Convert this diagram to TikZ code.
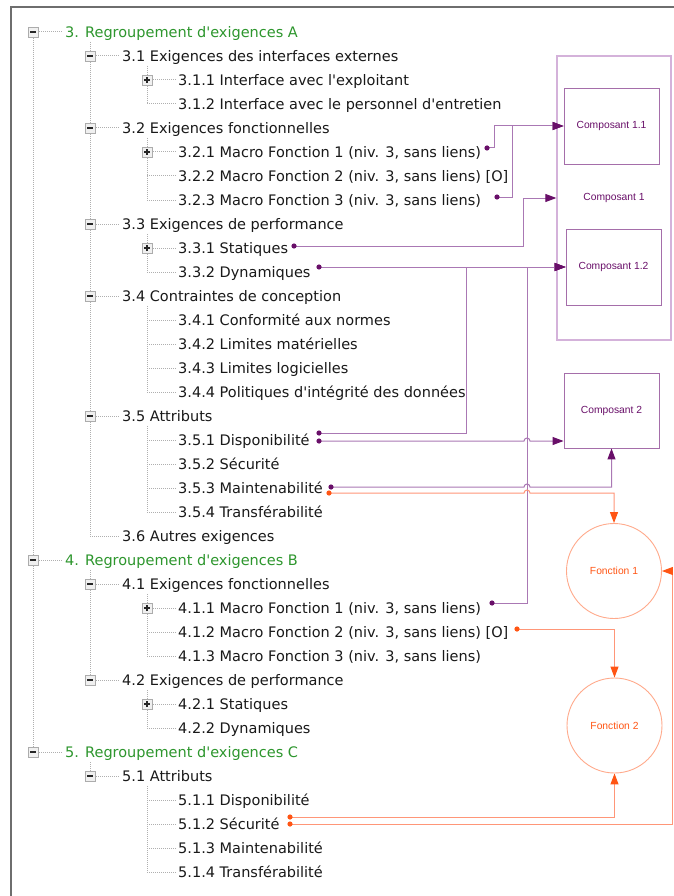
\documentclass[tikz,border=0pt]{standalone}
\usepackage{fontspec}
\setmainfont{DejaVu Sans}
\newfontfamily\labfont{Liberation Sans}
\usetikzlibrary{arrows.meta}
\newcommand\ap{\textquotesingle}
\definecolor{treetxt}{RGB}{25,25,25}
\definecolor{grpc}{RGB}{45,150,45}
\definecolor{pdark}{RGB}{105,15,105}
\definecolor{pline}{RGB}{170,120,180}
\definecolor{pbox}{RGB}{165,110,170}
\definecolor{pouter}{RGB}{212,178,218}
\definecolor{odark}{RGB}{255,85,20}
\definecolor{oline}{RGB}{255,150,120}
\definecolor{ocirc}{RGB}{255,170,140}
\definecolor{framec}{RGB}{110,110,110}
\definecolor{dotl}{RGB}{175,175,175}
\begin{document}
\begin{tikzpicture}[x=1pt,y=1pt,
  item/.style={anchor=base west, inner sep=0pt, font=\fontsize{14.5}{17}\selectfont, text=treetxt},
  grp/.style={item, text=grpc},
  tbox/.style={rectangle, draw=gray!65, fill=gray!12, minimum size=10pt, inner sep=0pt},
  sign/.style={draw=black!85, line width=1.6pt},
  treeline/.style={draw=dotl, line width=1pt, dash pattern=on 1pt off 1pt},
  comp/.style={rectangle, draw=pbox, line width=0.9pt, inner sep=0pt, font=\labfont\fontsize{10.3}{12}\selectfont, text=pdark},
  func/.style={circle, draw=ocirc, line width=0.9pt, inner sep=0pt, minimum size=95pt, font=\labfont\fontsize{10.3}{12}\selectfont, text=odark},
  plink/.style={draw=pline, line width=1pt, -{Triangle[length=11pt,width=8pt,color=pdark]}},
  olink/.style={draw=oline, line width=1pt, -{Triangle[length=11pt,width=8pt,color=odark]}},
  pdot/.style={fill=pdark},
  odot/.style={fill=odark}
]
\useasboundingbox (0,0) rectangle (674,-896);
\fill[white] (0,0) rectangle (674,-896);
\draw[framec, line width=2pt] (11,-896) -- (11,-7) -- (674,-7);

% ---------- tree texts ----------
\node[grp]  (t0)  at (65,-37.5)  {3. Regroupement d\ap exigences A};
\node[item] (t1)  at (122,-61.5) {3.1 Exigences des interfaces externes};
\node[item] (t2)  at (178,-85.5) {3.1.1 Interface avec l\ap exploitant};
\node[item] (t3)  at (178,-109.5) {3.1.2 Interface avec le personnel d\ap entretien};
\node[item] (t4)  at (122,-133.5) {3.2 Exigences fonctionnelles};
\node[item] (t5)  at (178,-157.5) {3.2.1 Macro Fonction 1 (niv. 3, sans liens)};
\node[item] (t6)  at (178,-181.5) {3.2.2 Macro Fonction 2 (niv. 3, sans liens) [O]};
\node[item] (t7)  at (178,-205.5) {3.2.3 Macro Fonction 3 (niv. 3, sans liens)};
\node[item] (t8)  at (122,-229.5) {3.3 Exigences de performance};
\node[item] (t9)  at (178,-253.5) {3.3.1 Statiques};
\node[item] (t10) at (178,-277.5) {3.3.2 Dynamiques};
\node[item] (t11) at (122,-301.5) {3.4 Contraintes de conception};
\node[item] (t12) at (178,-325.5) {3.4.1 Conformité aux normes};
\node[item] (t13) at (178,-349.5) {3.4.2 Limites matérielles};
\node[item] (t14) at (178,-373.5) {3.4.3 Limites logicielles};
\node[item] (t15) at (178,-397.5) {3.4.4 Politiques d\ap intégrité des données};
\node[item] (t16) at (122,-421.5) {3.5 Attributs};
\node[item] (t17) at (178,-445.5) {3.5.1 Disponibilité};
\node[item] (t18) at (178,-469.5) {3.5.2 Sécurité};
\node[item] (t19) at (178,-493.5) {3.5.3 Maintenabilité};
\node[item] (t20) at (178,-517.5) {3.5.4 Transférabilité};
\node[item] (t21) at (122,-541.5) {3.6 Autres exigences};
\node[grp]  (t22) at (65,-565.5) {4. Regroupement d\ap exigences B};
\node[item] (t23) at (122,-589.5) {4.1 Exigences fonctionnelles};
\node[item] (t24) at (178,-613.5) {4.1.1 Macro Fonction 1 (niv. 3, sans liens)};
\node[item] (t25) at (178,-637.5) {4.1.2 Macro Fonction 2 (niv. 3, sans liens) [O]};
\node[item] (t26) at (178,-661.5) {4.1.3 Macro Fonction 3 (niv. 3, sans liens)};
\node[item] (t27) at (122,-685.5) {4.2 Exigences de performance};
\node[item] (t28) at (178,-709.5) {4.2.1 Statiques};
\node[item] (t29) at (178,-733.5) {4.2.2 Dynamiques};
\node[grp]  (t30) at (65,-757.5) {5. Regroupement d\ap exigences C};
\node[item] (t31) at (122,-781.5) {5.1 Attributs};
\node[item] (t32) at (178,-805.5) {5.1.1 Disponibilité};
\node[item] (t33) at (178,-829.5) {5.1.2 Sécurité};
\node[item] (t34) at (178,-853.5) {5.1.3 Maintenabilité};
\node[item] (t35) at (178,-877.5) {5.1.4 Transférabilité};

% ---------- tree junction points ----------
\coordinate (b0) at (33,-32);   \coordinate (b22) at (33,-560);  \coordinate (b30) at (33,-752);
\coordinate (b1) at (90,-56);   \coordinate (b4) at (90,-128);   \coordinate (b8) at (90,-224);
\coordinate (b11) at (90,-296); \coordinate (b16) at (90,-416);  \coordinate (j21) at (90,-536);
\coordinate (b23) at (90,-584); \coordinate (b27) at (90,-680);  \coordinate (b31) at (90,-776);
\coordinate (b2) at (147,-80);  \coordinate (j3) at (147,-104);
\coordinate (b5) at (147,-152); \coordinate (j6) at (147,-176);  \coordinate (j7) at (147,-200);
\coordinate (b9) at (147,-248); \coordinate (j10) at (147,-272);
\coordinate (j12) at (147,-320); \coordinate (j13) at (147,-344); \coordinate (j14) at (147,-368); \coordinate (j15) at (147,-392);
\coordinate (j17) at (147,-440); \coordinate (j18) at (147,-464); \coordinate (j19) at (147,-488); \coordinate (j20) at (147,-512);
\coordinate (b24) at (147,-608); \coordinate (j25) at (147,-632); \coordinate (j26) at (147,-656);
\coordinate (b28) at (147,-704); \coordinate (j29) at (147,-728);
\coordinate (j32) at (147,-800); \coordinate (j33) at (147,-824); \coordinate (j34) at (147,-848); \coordinate (j35) at (147,-872);

% ---------- dotted tree lines ----------
\draw[treeline] (b0) -- (b30);
\draw[treeline] ([yshift=-10pt]b0 -| b1) -- (j21);
\draw[treeline] ([yshift=-10pt]b22 -| b23) -- (b27);
\draw[treeline] ([yshift=-10pt]b30 -| b31) -- (b31);
\draw[treeline] ([yshift=-10pt]b1 -| b2) -- (j3);
\draw[treeline] ([yshift=-10pt]b4 -| b5) -- (j7);
\draw[treeline] ([yshift=-10pt]b8 -| b9) -- (j10);
\draw[treeline] ([yshift=-10pt]b11 -| j12) -- (j15);
\draw[treeline] ([yshift=-10pt]b16 -| j17) -- (j20);
\draw[treeline] ([yshift=-10pt]b23 -| b24) -- (j26);
\draw[treeline] ([yshift=-10pt]b27 -| b28) -- (j29);
\draw[treeline] ([yshift=-10pt]b31 -| j32) -- (j35);
\foreach \j/\t in {b0/t0,b1/t1,b2/t2,j3/t3,b4/t4,b5/t5,j6/t6,j7/t7,b8/t8,b9/t9,j10/t10,b11/t11,j12/t12,j13/t13,j14/t14,j15/t15,b16/t16,j17/t17,j18/t18,j19/t19,j20/t20,j21/t21,b22/t22,b23/t23,b24/t24,j25/t25,j26/t26,b27/t27,b28/t28,j29/t29,b30/t30,b31/t31,j32/t32,j33/t33,j34/t34,j35/t35}
  \draw[treeline, shorten >=2pt] (\j) -- (\t.west |- \j);

% ---------- expander boxes ----------
\foreach \b in {b0,b1,b4,b8,b11,b16,b22,b23,b27,b30,b31}{
  \node[tbox] (x\b) at (\b) {};
  \draw[sign] ([xshift=-3pt]x\b.center) -- ([xshift=3pt]x\b.center);
}
\foreach \b in {b2,b5,b9,b24,b28}{
  \node[tbox] (x\b) at (\b) {};
  \draw[line width=1.3pt, black!85] ([xshift=-3pt]x\b.center) -- ([xshift=3pt]x\b.center)
                                    ([yshift=-3pt]x\b.center) -- ([yshift=3pt]x\b.center);
}

% ---------- right-hand diagram ----------
\node[comp, draw=pouter, line width=1.3pt, minimum width=114pt, minimum height=284pt] (c1) at (614,-198) {Composant 1};
\node[comp, minimum width=95pt, minimum height=76pt] (c11) at (611.5,-126) {Composant 1.1};
\node[comp, minimum width=95pt, minimum height=76pt] (c12) at (613.5,-267) {Composant 1.2};
\node[comp, minimum width=95pt, minimum height=75pt] (c2) at (611.5,-410.5) {Composant 2};
\node[func] (f1) at (614,-571) {Fonction 1};
\node[func] (f2) at (614.5,-725.5) {Fonction 2};

% ---------- link end points ----------
\coordinate (d5) at (487,-148);
\coordinate (d7) at (497,-197);
\coordinate (d9) at (294,-246);
\coordinate (d10) at (319,-267);
\coordinate (d17a) at (319,-433);
\coordinate (d17b) at (319,-441);
\coordinate (d19p) at (331,-487);
\coordinate (d19o) at (329,-493);
\coordinate (d24) at (492,-603);
\coordinate (d25) at (517,-629);
\coordinate (d33a) at (290,-817);
\coordinate (d33b) at (290,-824);

% ---------- links ----------
\draw[plink] (d5) -- ++(7,0) |- (c11.west);
\draw[plink] (d7) -- ++(15,0) |- (c11.west);
\draw[plink] (d9) -- ++(229,0) |- (c1.west);
\draw[plink] (d10) -- (c12.west);
\draw[plink] (d17a) -- ++(147,0) |- (c12.west);
\draw[plink] (d24) -- ++(35,0) |- (c12.west);
\draw[plink] (d17b) -- ++(205,0) arc[start angle=180,end angle=0,radius=3] -- (c2.west |- d17b);
\draw[plink] (d19p) -- ++(193,0) arc[start angle=180,end angle=0,radius=3] -| (c2.south);
\draw[olink] (d19o) -- ++(195,0) arc[start angle=180,end angle=0,radius=3] -| (f1.north);
\draw[olink] (d25) -| (f2.north);
\draw[olink] (d33a) -| (f2.south);
\draw[olink] (d33b) -- ++(382,0) |- (f1.east);

\foreach \d in {d5,d7,d9,d10,d17a,d17b,d19p,d24} \fill[pdot] (\d) circle (2.6);
\foreach \d in {d19o,d25,d33a,d33b} \fill[odot] (\d) circle (2.6);
\end{tikzpicture}
\end{document}
